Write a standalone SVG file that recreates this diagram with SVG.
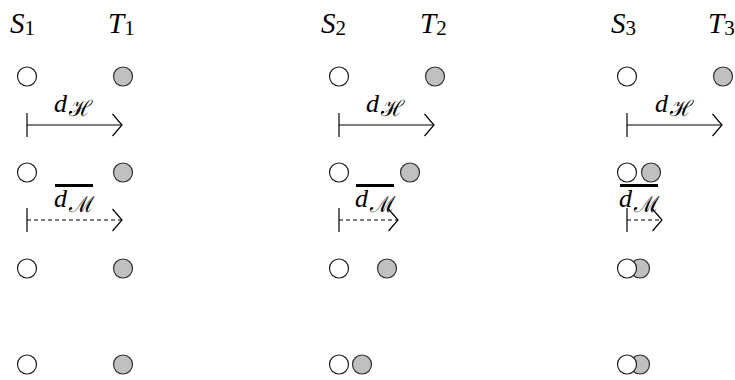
<svg xmlns="http://www.w3.org/2000/svg" width="735" height="380" viewBox="0 0 735 380">
<style>
.s{fill:#fff;stroke:#222;stroke-width:1.2}
.t{fill:#c0c0c0;stroke:#333;stroke-width:1.2}
.lab{font-family:"Liberation Serif","DejaVu Serif",serif;font-style:italic;font-size:29px;fill:#000}
.sub{font-style:normal;font-size:21px}
.d{font-family:"Liberation Serif","DejaVu Serif",serif;font-style:italic;font-size:26px;fill:#000}
.cal{font-family:"DejaVu Serif","Liberation Serif",serif;font-style:normal;font-size:22px}
.arr{stroke:#000;stroke-width:1.2;fill:none;marker-start:url(#tick);marker-end:url(#head)}
.dash{stroke-dasharray:4 3}
.bar{stroke:#000;stroke-width:3}
</style>
<defs>
<marker id="head" markerUnits="userSpaceOnUse" markerWidth="12" markerHeight="26" refX="11" refY="13" orient="auto" overflow="visible">
<path d="M1.5,2 L11,13 L1.5,24" fill="none" stroke="#000" stroke-width="1.2"/>
</marker>
<marker id="tick" markerUnits="userSpaceOnUse" markerWidth="4" markerHeight="26" refX="2" refY="13" orient="auto" overflow="visible">
<path d="M2,1 L2,25" fill="none" stroke="#000" stroke-width="1.2"/>
</marker>
</defs>
<g id="labels">
<text class="lab" x="10" y="33">S<tspan class="sub" dy="2">1</tspan></text>
<text class="lab" x="108" y="33">T<tspan class="sub" dy="2">1</tspan></text>
<text class="lab" x="321" y="33">S<tspan class="sub" dy="2">2</tspan></text>
<text class="lab" x="420" y="33">T<tspan class="sub" dy="2">2</tspan></text>
<text class="lab" x="611" y="33">S<tspan class="sub" dy="2">3</tspan></text>
<text class="lab" x="708" y="33">T<tspan class="sub" dy="2">3</tspan></text>
</g>
<g id="col1">
<g id="s1a"><circle class="s" cx="27" cy="76.5" r="9.5"/></g>
<g id="t1a"><circle class="t" cx="123" cy="76.5" r="9.5"/></g>
<g id="s1b"><circle class="s" cx="27" cy="172.5" r="9.5"/></g>
<g id="t1b"><circle class="t" cx="123" cy="172.5" r="9.5"/></g>
<g id="t1c"><circle class="t" cx="123" cy="268.5" r="9.5"/></g>
<g id="s1c"><circle class="s" cx="27" cy="268.5" r="9.5"/></g>
<g id="t1d"><circle class="t" cx="123" cy="364.5" r="9.5"/></g>
<g id="s1d"><circle class="s" cx="27" cy="364.5" r="9.5"/></g>
</g>
<g id="col2">
<g id="s2a"><circle class="s" cx="339" cy="76.5" r="9.5"/></g>
<g id="t2a"><circle class="t" cx="435" cy="76.5" r="9.5"/></g>
<g id="s2b"><circle class="s" cx="339" cy="172.5" r="9.5"/></g>
<g id="t2b"><circle class="t" cx="410" cy="172.5" r="9.5"/></g>
<g id="t2c"><circle class="t" cx="387" cy="268.5" r="9.5"/></g>
<g id="s2c"><circle class="s" cx="339" cy="268.5" r="9.5"/></g>
<g id="t2d"><circle class="t" cx="362" cy="364.5" r="9.5"/></g>
<g id="s2d"><circle class="s" cx="339" cy="364.5" r="9.5"/></g>
</g>
<g id="col3">
<g id="s3a"><circle class="s" cx="627" cy="76.5" r="9.5"/></g>
<g id="t3a"><circle class="t" cx="723" cy="76.5" r="9.5"/></g>
<g id="s3b"><circle class="s" cx="627" cy="172.5" r="9.5"/></g>
<g id="t3b"><circle class="t" cx="651" cy="172.5" r="9.5"/></g>
<g id="t3c"><circle class="t" cx="640" cy="268.5" r="9.5"/></g>
<g id="s3c"><circle class="s" cx="627" cy="268.5" r="9.5"/></g>
<g id="t3d"><circle class="t" cx="640" cy="364.5" r="9.5"/></g>
<g id="s3d"><circle class="s" cx="627" cy="364.5" r="9.5"/></g>
</g>
<g id="connectors">
<line class="arr" x1="27" y1="125" x2="122" y2="125"/>
<line class="arr" x1="339" y1="125" x2="434" y2="125"/>
<line class="arr" x1="627" y1="125" x2="722" y2="125"/>
<line class="arr dash" x1="27" y1="220" x2="122" y2="220"/>
<line class="arr dash" x1="339" y1="220" x2="398" y2="220"/>
<line class="arr dash" x1="627" y1="220" x2="662" y2="220"/>
</g>
<g id="distlabels">
<text class="d" x="54" y="112">d<tspan class="cal" dx="2" dy="4">ℋ</tspan></text>
<text class="d" x="366" y="112">d<tspan class="cal" dx="2" dy="4">ℋ</tspan></text>
<text class="d" x="655" y="112">d<tspan class="cal" dx="2" dy="4">ℋ</tspan></text>
<line class="bar" x1="55" y1="185.5" x2="93" y2="185.5"/>
<text class="d" x="54" y="207">d<tspan class="cal" dx="2" dy="5">ℳ</tspan></text>
<line class="bar" x1="356" y1="185.5" x2="394" y2="185.5"/>
<text class="d" x="355" y="207">d<tspan class="cal" dx="2" dy="5">ℳ</tspan></text>
<line class="bar" x1="620" y1="185.5" x2="658" y2="185.5"/>
<text class="d" x="619" y="207">d<tspan class="cal" dx="2" dy="5">ℳ</tspan></text>
</g>
</svg>
